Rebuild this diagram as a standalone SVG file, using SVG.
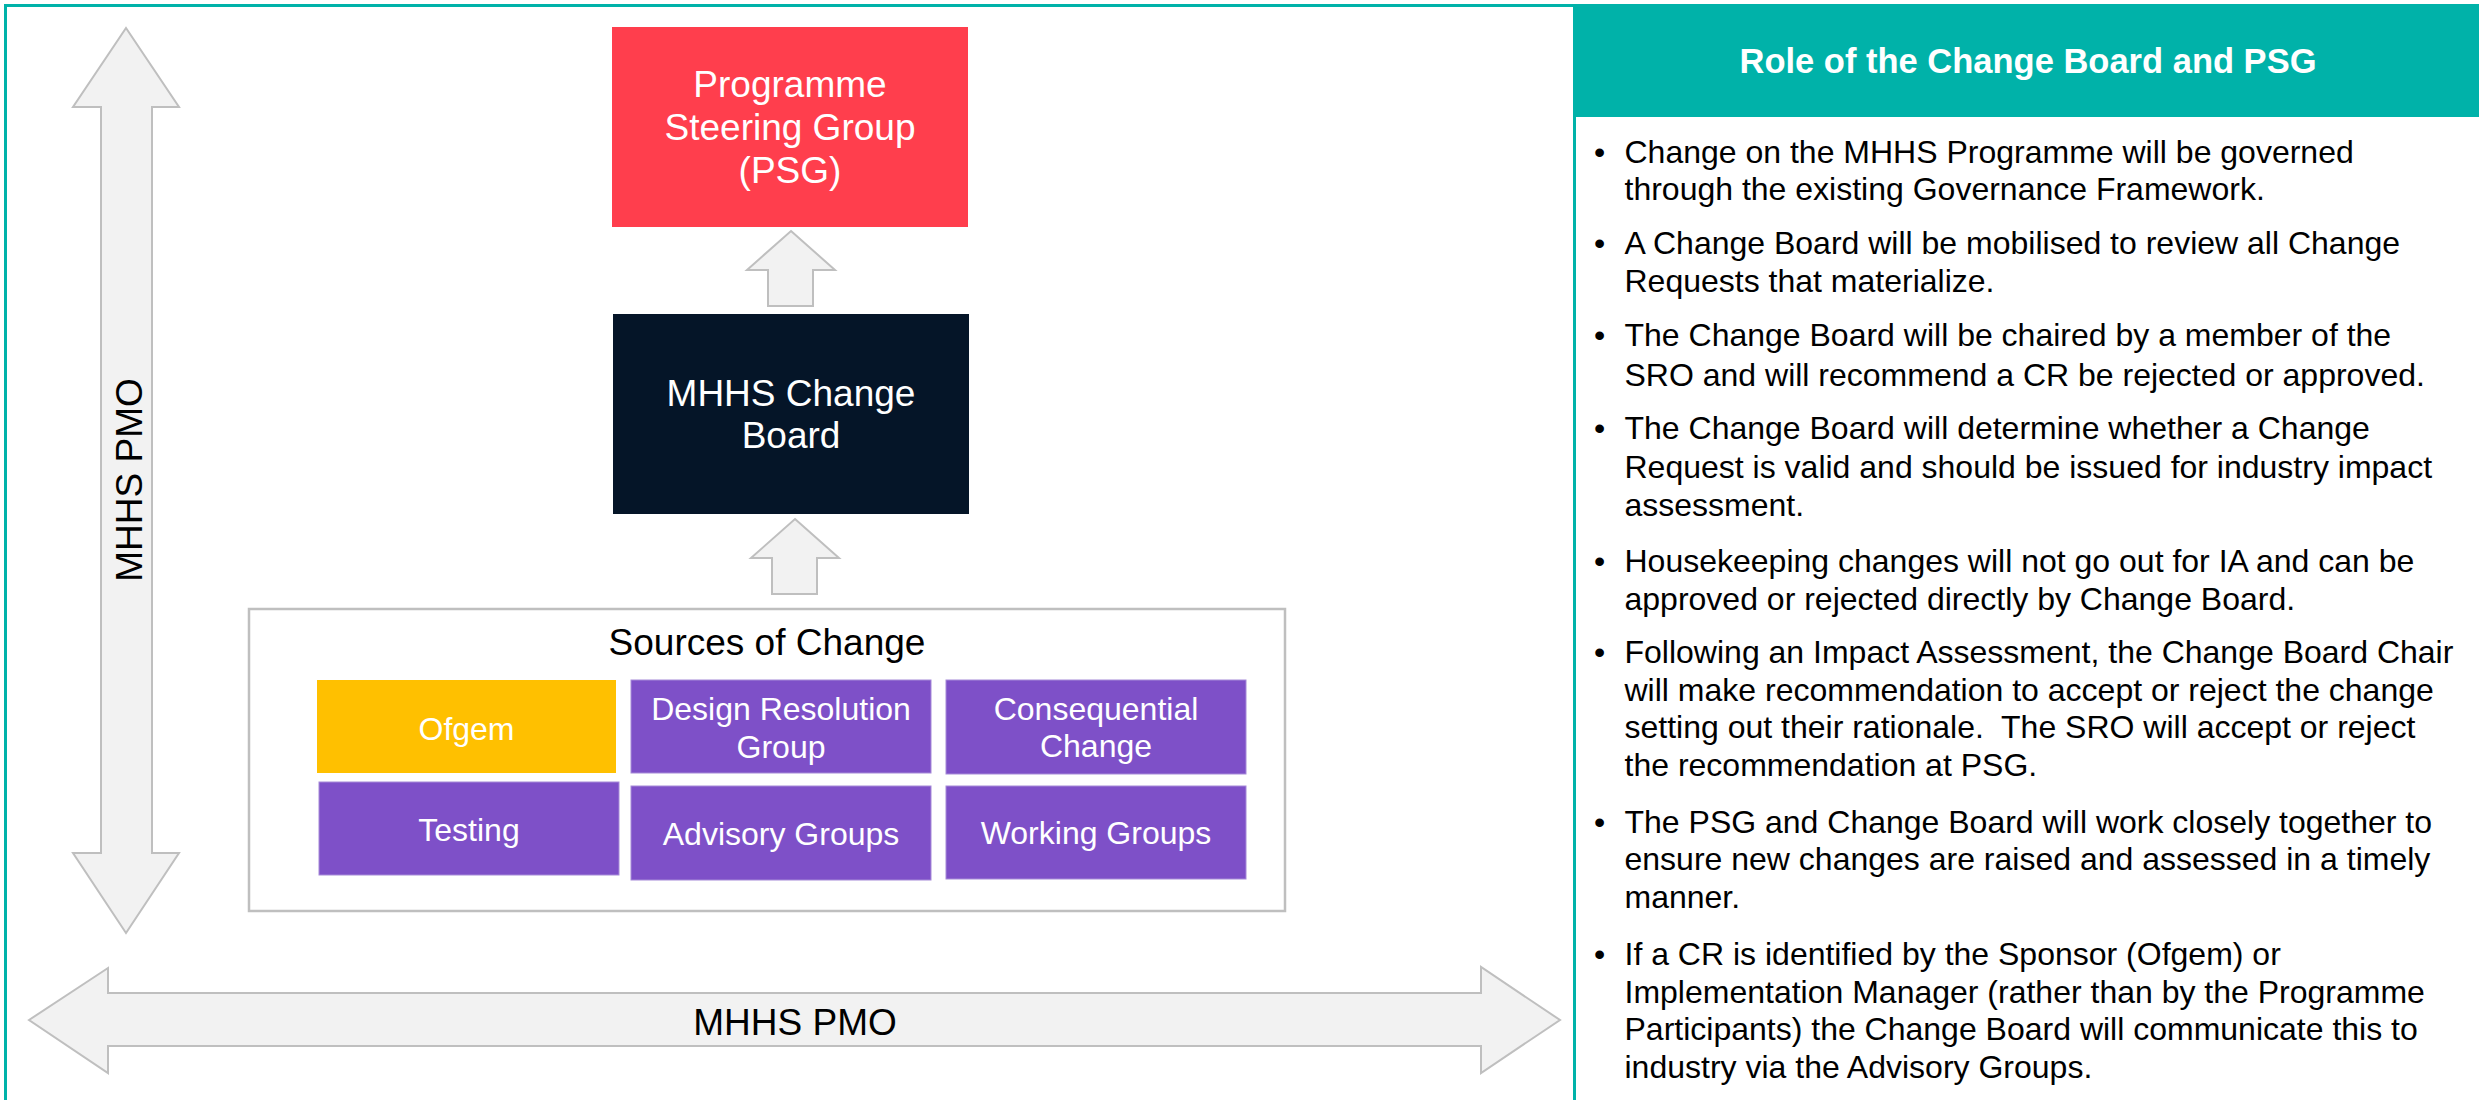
<svg xmlns="http://www.w3.org/2000/svg" width="2479" height="1100" viewBox="0 0 2479 1100">
  <style>
    text { font-family: "Liberation Sans", Arial, Helvetica, sans-serif; }
    .arrow { fill: #F2F2F2; stroke: #BFBFBF; stroke-width: 2; stroke-linejoin: miter; }
    .frame { stroke: #00B2A9; stroke-width: 3; fill: none; }
    .big { font-size: 37px; fill: #FFFFFF; text-anchor: middle; }
    .dark { font-size: 37px; fill: #000000; text-anchor: middle; }
    .src { font-size: 32px; fill: #FFFFFF; text-anchor: middle; }
    .purple { fill: #7E50C8; stroke: #A68AD8; stroke-width: 1; }
    .body { font-size: 32px; fill: #000000; white-space: pre; }
    .head { font-size: 34.5px; font-weight: bold; fill: #FFFFFF; text-anchor: middle; }
  </style>
  <rect x="0" y="0" width="2479" height="1100" fill="#FFFFFF"/>

  <!-- frame -->
  <g id="frame">
    <line class="frame" x1="4" y1="5.5" x2="1576" y2="5.5"/>
    <line class="frame" x1="5.5" y1="4" x2="5.5" y2="1100"/>
    <line class="frame" x1="1574.5" y1="4" x2="1574.5" y2="1100"/>
  </g>

  <!-- connectors -->
  <g id="connectors">
    <path class="arrow" d="M126,28 L179,107 L152,107 L152,853 L179,853 L126,933 L73,853 L101,853 L101,107 L73,107 Z"/>
    <path class="arrow" d="M29,1020 L108,968 L108,993 L1481,993 L1481,967 L1560,1020 L1481,1073 L1481,1046 L108,1046 L108,1073 Z"/>
    <path class="arrow" d="M791,231 L835,270 L813,270 L813,306 L768,306 L768,270 L747,270 Z"/>
    <path class="arrow" d="M795,519 L839,558 L817,558 L817,594 L772,594 L772,558 L751,558 Z"/>
  </g>

  <g id="pmo-vertical-label">
    <text class="dark" transform="translate(141.5,480) rotate(-90)" x="0" y="0">MHHS PMO</text>
  </g>
  <g id="pmo-horizontal-label">
    <text class="dark" x="795" y="1034.5">MHHS PMO</text>
  </g>

  <g id="psg">
    <rect x="612" y="27" width="356" height="200" fill="#FF3E4D"/>
    <text class="big" x="790" y="97">Programme</text>
    <text class="big" x="790" y="140">Steering Group</text>
    <text class="big" x="790" y="183">(PSG)</text>
  </g>

  <g id="change-board">
    <rect x="613" y="314" width="356" height="200" fill="#051528"/>
    <text class="big" x="791" y="406">MHHS Change</text>
    <text class="big" x="791" y="448">Board</text>
  </g>

  <g id="sources-of-change">
    <rect x="249" y="609" width="1036" height="302" fill="#FFFFFF" stroke="#BFBFBF" stroke-width="2.5"/>
    <text class="dark" x="767" y="655">Sources of Change</text>
  </g>

  <g id="ofgem">
    <rect x="317" y="680" width="299" height="93" fill="#FFC000"/>
    <text class="src" x="466.5" y="740">Ofgem</text>
  </g>
  <g id="design-resolution-group">
    <rect class="purple" x="631" y="680" width="300" height="93"/>
    <text class="src" x="781" y="719.5">Design Resolution</text>
    <text class="src" x="781" y="758">Group</text>
  </g>
  <g id="consequential-change">
    <rect class="purple" x="946" y="680" width="300" height="94"/>
    <text class="src" x="1096" y="720">Consequential</text>
    <text class="src" x="1096" y="757">Change</text>
  </g>
  <g id="testing">
    <rect class="purple" x="319" y="782" width="300" height="93"/>
    <text class="src" x="469" y="840.5">Testing</text>
  </g>
  <g id="advisory-groups">
    <rect class="purple" x="631" y="786" width="300" height="94"/>
    <text class="src" x="781" y="845">Advisory Groups</text>
  </g>
  <g id="working-groups">
    <rect class="purple" x="946" y="786" width="300" height="93"/>
    <text class="src" x="1096" y="843.5">Working Groups</text>
  </g>

  <g id="role-panel">
    <rect x="1573" y="4" width="906" height="113" fill="#00B2A9"/>
    <text class="head" x="2028" y="73">Role of the Change Board and PSG</text>
    <g class="bullets">
      <text class="body" x="1594" y="162.5">•</text>
      <text class="body" x="1624.5" y="162.5">Change on the MHHS Programme will be governed</text>
      <text class="body" x="1624.5" y="200">through the existing Governance Framework.</text>

      <text class="body" x="1594" y="253.5">•</text>
      <text class="body" x="1624.5" y="253.5">A Change Board will be mobilised to review all Change</text>
      <text class="body" x="1624.5" y="292">Requests that materialize.</text>

      <text class="body" x="1594" y="346">•</text>
      <text class="body" x="1624.5" y="346">The Change Board will be chaired by a member of the</text>
      <text class="body" x="1624.5" y="386">SRO and will recommend a CR be rejected or approved.</text>

      <text class="body" x="1594" y="439">•</text>
      <text class="body" x="1624.5" y="439">The Change Board will determine whether a Change</text>
      <text class="body" x="1624.5" y="478">Request is valid and should be issued for industry impact</text>
      <text class="body" x="1624.5" y="516">assessment.</text>

      <text class="body" x="1594" y="572">•</text>
      <text class="body" x="1624.5" y="572">Housekeeping changes will not go out for IA and can be</text>
      <text class="body" x="1624.5" y="609.5">approved or rejected directly by Change Board.</text>

      <text class="body" x="1594" y="663">•</text>
      <text class="body" x="1624.5" y="663">Following an Impact Assessment, the Change Board Chair</text>
      <text class="body" x="1624.5" y="700.5">will make recommendation to accept or reject the change</text>
      <text class="body" x="1624.5" y="738">setting out their rationale.  The SRO will accept or reject</text>
      <text class="body" x="1624.5" y="775.5">the recommendation at PSG.</text>

      <text class="body" x="1594" y="833">•</text>
      <text class="body" x="1624.5" y="833">The PSG and Change Board will work closely together to</text>
      <text class="body" x="1624.5" y="870">ensure new changes are raised and assessed in a timely</text>
      <text class="body" x="1624.5" y="908">manner.</text>

      <text class="body" x="1594" y="965">•</text>
      <text class="body" x="1624.5" y="965">If a CR is identified by the Sponsor (Ofgem) or</text>
      <text class="body" x="1624.5" y="1002.5">Implementation Manager (rather than by the Programme</text>
      <text class="body" x="1624.5" y="1040">Participants) the Change Board will communicate this to</text>
      <text class="body" x="1624.5" y="1077.5">industry via the Advisory Groups.</text>
    </g>
  </g>
</svg>
